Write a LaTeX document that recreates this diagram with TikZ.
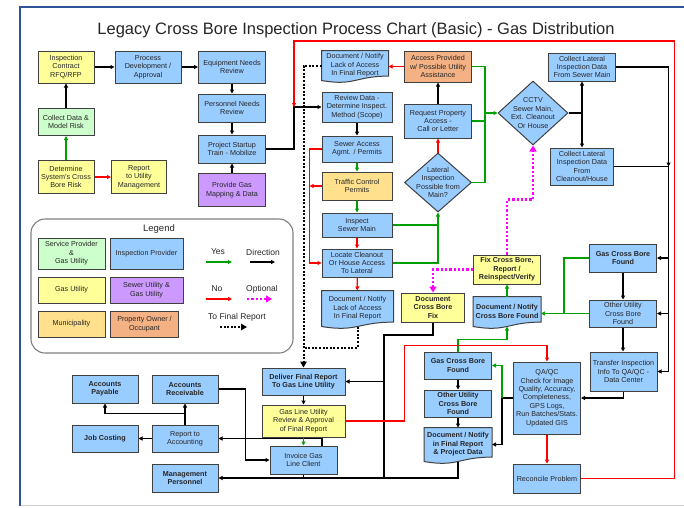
\documentclass[tikz,border=0pt]{standalone}
\usepackage{fontspec}
\setmainfont{Liberation Sans}
\usetikzlibrary{arrows.meta,shapes.geometric,backgrounds,calc}

\definecolor{inspblue}{RGB}{153,204,255}
\definecolor{gasyellow}{RGB}{255,255,153}
\definecolor{svcgreen}{RGB}{204,255,204}
\definecolor{sewpurple}{RGB}{204,153,255}
\definecolor{munigold}{RGB}{255,224,140}
\definecolor{ownersalmon}{RGB}{244,177,131}
\definecolor{boxline}{RGB}{64,64,64}
\definecolor{yesgreen}{RGB}{0,160,0}
\definecolor{nored}{RGB}{255,0,0}
\definecolor{optmagenta}{RGB}{255,0,255}
\definecolor{frameblue}{RGB}{47,85,151}

\tikzset{
  procbox/.style={draw=boxline, line width=1pt, align=center, minimum width=67pt,
    minimum height=28pt, inner sep=0.5pt, text=black!85,
    font=\fontsize{7.2}{8.4}\selectfont},
  insp/.style={procbox, fill=inspblue},
  gasu/.style={procbox, fill=gasyellow},
  svcp/.style={procbox, fill=svcgreen},
  sewu/.style={procbox, fill=sewpurple},
  muni/.style={procbox, fill=munigold},
  ownr/.style={procbox, fill=ownersalmon},
  bold/.style={font=\fontsize{7.2}{8.4}\selectfont\bfseries},
  docbox/.style={procbox, draw=none, fill=none},
  docfill/.style={draw=boxline, line width=1pt, fill=inspblue},
  decision/.style={diamond, draw=boxline, line width=1pt, fill=inspblue, inner sep=0pt},
  dtext/.style={align=center, inner sep=0pt, text=black!85, font=\fontsize{7.2}{8.4}\selectfont},
  dirln/.style={draw=black, line width=1.2pt},
  yesln/.style={draw=yesgreen, line width=1.2pt},
  noln/.style={draw=nored, line width=1.2pt},
  optln/.style={draw=optmagenta, line width=2.3pt, dash pattern=on 2.3pt off 2pt,
    >={Triangle[length=6pt,width=7pt]}},
  finln/.style={draw=black, line width=2pt, dash pattern=on 2pt off 1.6pt,
    >={Triangle[length=6pt,width=6.5pt]}},
  lgtext/.style={font=\fontsize{8.5}{10}\selectfont, text=black!85, inner sep=0pt}
}

% document outline with a wavy bottom
\newcommand\docwave[1]{%
  \draw[docfill] (#1.south west) |- (#1.north east) -- ($(#1.south east)+(0,-4.4)$)
    .. controls ($(#1.south)+(0,-4.4)$) and ($(#1.south)+(0,5.8)$) .. (#1.south west) -- cycle;}

\begin{document}
\begin{tikzpicture}[x=1pt,y=1pt,yscale=-1,>={Triangle[length=4pt,width=4pt]}]
  \useasboundingbox (0,0) rectangle (684,507);
  % frame and title
  \draw[black!20, line width=0.8pt] (20,505) -- (684,505);
  \draw[frameblue, line width=2.6pt] (20,506) -- (20,7) -- (684,7);
  \node[font=\fontsize{16.5}{19}\selectfont, text=black!85] (title) at (356,30)
    {Legacy Cross Bore Inspection Process Chart (Basic) - Gas Distribution};

  % planning
  \node[gasu, minimum width=56pt, minimum height=32pt] (contract) at (66,67) {Inspection\\Contract\\RFQ/RFP};
  \node[insp, minimum width=66pt, minimum height=32pt] (procdev) at (148,67) {Process\\Development /\\Approval};
  \node[insp, minimum height=32pt] (equip) at (232,67) {Equipment Needs\\Review};
  \node[insp] (personnel) at (232,108) {Personnel Needs\\Review};
  \node[insp] (startup) at (232,149) {Project Startup\\Train - Mobilize};
  \node[sewu, minimum height=33pt] (mapping) at (232,190) {Provide Gas\\Mapping \& Data};
  \node[svcp, minimum width=56pt, minimum height=27pt] (collect) at (66,122) {Collect Data \&\\Model Risk};
  \node[gasu, minimum width=56pt, minimum height=33pt] (risk) at (66,177) {Determine\\System's Cross\\Bore Risk};
  \node[gasu, minimum width=55pt, minimum height=33pt] (utilrep) at (139,177) {Report\\to Utility\\Management};

  % sewer access column
  \node[docbox, minimum width=66pt, minimum height=29pt] (docTop) at (355,65.5) {Document / Notify\\Lack of Access\\In Final Report};
  \node[insp, minimum width=70pt, minimum height=30pt] (review) at (357,107) {Review Data -\\Determine Inspect.\\Method (Scope)};
  \node[insp, minimum width=70pt, minimum height=26pt] (sewer) at (357,149) {Sewer Access\\Agmt. / Permits};
  \node[muni, minimum width=70pt] (traffic) at (357,186) {Traffic Control\\Permits};
  \node[insp, minimum width=70pt, minimum height=24pt] (inspect) at (357,225) {Inspect\\Sewer Main};
  \node[insp, minimum width=70pt] (locate) at (357,263) {Locate Cleanout\\Or House Access\\To Lateral};
  \node[docbox, minimum width=71pt, minimum height=35pt] (docLow) at (357.5,308.5) {Document / Notify\\Lack of Access\\In Final Report};

  % property access and CCTV
  \node[ownr, minimum height=31pt] (access) at (438,66.5) {Access Provided\\w/ Possible Utility\\Assistance};
  \node[insp, minimum height=34pt] (request) at (438,121) {Request Property\\Access -\\Call or Letter};
  \node[decision, minimum width=67pt, minimum height=59pt,
    label={[dtext]center:Lateral\\Inspection\\Possible from\\Main?}] (lateral) at (438,182.5) {};
  \node[decision, minimum width=70pt, minimum height=64pt,
    label={[dtext]center:CCTV\\Sewer Main,\\Ext. Cleanout\\Or House}] (cctv) at (533,113) {};
  \node[insp] (latmain) at (582,67) {Collect Lateral\\Inspection Data\\From Sewer Main};
  \node[insp, minimum width=63pt, minimum height=37pt] (lathouse) at (582,166.5) {Collect Lateral\\Inspection Data\\From\\Cleanout/House};

  % findings
  \node[insp, bold] (gasR) at (623,258) {Gas Cross Bore\\Found};
  \node[insp, minimum height=27pt] (otherR) at (623,313.5) {Other Utility\\Cross Bore\\Found};
  \node[insp, minimum height=39pt] (transfer) at (623.5,371.5) {Transfer Inspection\\Info To QA/QC -\\Data Center};
  \node[gasu, bold, minimum height=29pt] (fix) at (507,269.5) {Fix Cross Bore,\\Report /\\Reinspect/Verify};
  \node[docbox, bold, minimum height=29pt] (docFound) at (507,311.5) {Document / Notify\\Cross Bore Found};
  \node[gasu, bold, minimum width=63pt, minimum height=29pt] (docFix) at (433,307.5) {Document\\Cross Bore\\Fix};
  \node[insp, minimum height=72pt] (qaqc) at (547,398) {QA/QC\\Check for Image\\Quality, Accuracy,\\Completeness,\\GPS Logs,\\Run Batches/Stats.\\Updated GIS};
  \node[insp, minimum height=29pt] (reconcile) at (547,478.5) {Reconcile Problem};
  \node[insp, bold, minimum height=27pt] (gasL) at (458,365.5) {Gas Cross Bore\\Found};
  \node[insp, bold, minimum height=27pt] (otherL) at (458,403.5) {Other Utility\\Cross Bore\\Found};
  \node[docbox, bold, minimum height=33pt] (docProj) at (458,444.5) {Document / Notify\\in Final Report\\\& Project Data};

  % reporting and accounting
  \node[insp, bold, minimum width=83pt, minimum height=27pt] (deliver) at (303.5,381.5) {Deliver Final Report\\To Gas Line Utility};
  \node[gasu, minimum width=83pt, minimum height=32pt] (approval) at (303.5,421) {Gas Line Utility\\Review \& Approval\\of Final Report};
  \node[insp] (invoice) at (303.5,460) {Invoice Gas\\Line Client};
  \node[insp, bold, minimum width=66pt] (payable) at (105,389) {Accounts\\Payable};
  \node[insp, bold, minimum width=66pt] (receivable) at (185,389) {Accounts\\Receivable};
  \node[insp, bold, minimum width=66pt, minimum height=27pt] (jobcost) at (105,438.5) {Job Costing};
  \node[insp, minimum width=66pt, minimum height=27pt] (repacct) at (185,438.5) {Report to\\Accounting};
  \node[insp, bold, minimum width=66pt] (mgmt) at (185,478) {Management\\Personnel};

  \begin{scope}[on background layer]
    \docwave{docTop}
    \docwave{docLow}
    \docwave{docFound}
    \docwave{docProj}
  \end{scope}

  % legend
  \node[draw=black!50, line width=1.1pt, rounded corners=14pt, minimum width=262pt,
    minimum height=134pt] (legend) at (162,286) {};
  \node[font=\fontsize{9.5}{11}\selectfont, text=black!85] (legendtitle) at (159,229) {Legend};
  \node[svcp, minimum height=31pt] (lsvc) at (71.5,253.5) {Service Provider\\\&\\Gas Utility};
  \node[insp, minimum width=73pt, minimum height=31pt] (linsp) at (146.5,253.5) {Inspection Provider};
  \node[gasu, minimum height=26pt] (lgas) at (71.5,290) {Gas Utility};
  \node[sewu, minimum width=73pt, minimum height=26pt] (lsew) at (146.5,290) {Sewer Utility \&\\Gas Utility};
  \node[muni, minimum height=26pt] (lmuni) at (71.5,324) {Municipality};
  \node[ownr, minimum width=68pt, minimum height=26pt] (lownr) at (144.5,324) {Property Owner /\\Occupant};
  \node[lgtext] (lyes) at (218,252) {Yes};
  \node[lgtext] (ldir) at (263,252) {Direction};
  \node[lgtext] (lno) at (217,289) {No};
  \node[lgtext] (lopt) at (262,289) {Optional};
  \node[lgtext] (lfin) at (237,317) {To Final Report};
  \draw[yesln,->] (lyes.center) ++(-12,10) -- ++(26,0);
  \draw[dirln,->] (ldir.center) ++(-13,10) -- ++(25,0);
  \draw[noln,->] (lno.center) ++(-11,10) -- ++(26,0);
  \draw[optln,->] (lopt.center) ++(-15,10) -- ++(25,0);
  \draw[finln,->] (lfin.center) ++(-17,10) -- ++(27,0);

  % direction
  \draw[dirln,->] (contract) -- (procdev);
  \draw[dirln,->] (procdev) -- (equip);
  \draw[dirln,->] (equip) -- (personnel);
  \draw[dirln,->] (personnel) -- (startup);
  \draw[dirln,->] (mapping) -- (startup);
  \draw[dirln,->] (collect) -- (contract);
  \draw[dirln,->] (startup.east) -- ++(28,0) coordinate (stj) |- (review.west);
  \draw[dirln,->] (review) -- (sewer);
  \draw[dirln,->] (request) -- (access);
  \draw[dirln] (cctv.east) -- (cctv.east -| latmain.south) coordinate (cctvj);
  \draw[dirln,->] (cctvj) -- (latmain.south);
  \draw[dirln,->] (cctvj) -- (lathouse.north);
  \draw[dirln,->] (latmain.east) -- ++(52.5,0) coordinate (bustop) -- (bustop |- lathouse.east);
  \draw[dirln] (lathouse.east) -- (bustop |- lathouse.east) -- (bustop |- transfer.east);
  \draw[dirln,->] (bustop |- gasR.east) -- (gasR.east);
  \draw[dirln,->] (bustop |- otherR.east) -- (otherR.east);
  \draw[dirln,->] (bustop |- transfer.east) -- (transfer.east);
  \draw[dirln,->] (gasR) -- (otherR);
  \draw[dirln,->] (otherR.south) -- (otherR.south |- transfer.north);
  \draw[dirln,->] (transfer.south) |- (qaqc.east);
  \draw[dirln] (qaqc.west) -- ++(-11,0) coordinate (qaj);
  \draw[dirln,->] (qaj) |- (docProj.east);
  \draw[dirln,->] (gasL) -- (otherL);
  \draw[dirln,->] (otherL) -- (docProj);
  \draw[dirln,->] (docProj.south) |- (mgmt.east);
  \draw[dirln] (invoice.south) -- (invoice.south |- mgmt.east);
  \draw[dirln,->] ($(invoice.north)+(18.5,0)$) |- (repacct.east);
  \draw[dirln,->] (receivable.east) -- ++(27,0) |- (invoice.west);
  \draw[dirln,->] (repacct) -- (jobcost);
  \draw[dirln,->] (repacct) -- (receivable);
  \draw[dirln,->] ($(repacct.north)+(0,-11)$) -| (payable.south);
  \draw[dirln,->] (deliver) -- (approval);
  \coordinate (fixbus) at (384,335);
  \draw[dirln] (docFix.south) |- (fixbus) -- (fixbus |- mgmt.east);
  \draw[dirln,->] (fixbus |- deliver.east) -- (deliver.east);

  % yes
  \draw[yesln,->] (risk) -- (collect);
  \draw[yesln,->] (sewer) -- (traffic);
  \draw[yesln,->] (traffic) -- (inspect);
  \draw[yesln,->] (inspect.east) -| (lateral.south);
  \draw[yesln] (locate.east) -| (lateral.south |- inspect.east);
  \draw[yesln] (access.east) -- ++(13,0) coordinate (yesbus) |- (lateral.east);
  \draw[yesln] (request.east) -- (request.east -| yesbus);
  \draw[yesln,->] (yesbus |- cctv.west) -- (cctv.west);
  \draw[yesln,->] (docFound) -- (fix);
  \draw[yesln] (gasR.west) -- ++(-25,0) |- (otherR.west);
  \draw[yesln,->] (otherR.west) -- (otherR.west -| docFound.east);
  \draw[yesln,->] (gasL.north) -- ++(0,-12) -| (docFound.south);
  \draw[yesln,->] (qaj) |- (gasL.east);
  \draw[yesln,->] (approval) -- (invoice);

  % no
  \draw[noln,->] (risk) -- (utilrep);
  \draw[noln,->] (access.west) -- (access.west -| docTop.east);
  \draw[noln,->] (lateral) -- (request);
  \draw[noln,->] (sewer.west) -- ++(-12,0) coordinate (nobus) |- (locate.west);
  \draw[noln,->] (traffic.west) -- (traffic.west -| nobus);
  \draw[noln,->] (inspect) -- (locate);
  \draw[noln,->] (locate) -- (docLow);
  \draw[noln,->] (approval.east) -- ++(59,0) |- ($(qaqc.north)+(0,-16)$) -- (qaqc.north);
  \draw[noln,->] (qaqc) -- (reconcile);
  \draw[noln,->] (reconcile.east) -- ++(93.5,0) |- ($(stj)+(0,-108)$) -- (stj |- review.west);

  % optional
  \draw[optln,->] (fix.north) -- ++(0,-55) -| (cctv.south);
  \draw[optln,->] (fix.west) -| (docFix.north);

  % to final report
  \draw[finln,->] (docTop.west) -| (deliver.north);
  \draw[finln] (docLow.south) |- ($(deliver.north)+(0,-20)$);
\end{tikzpicture}
\end{document}
